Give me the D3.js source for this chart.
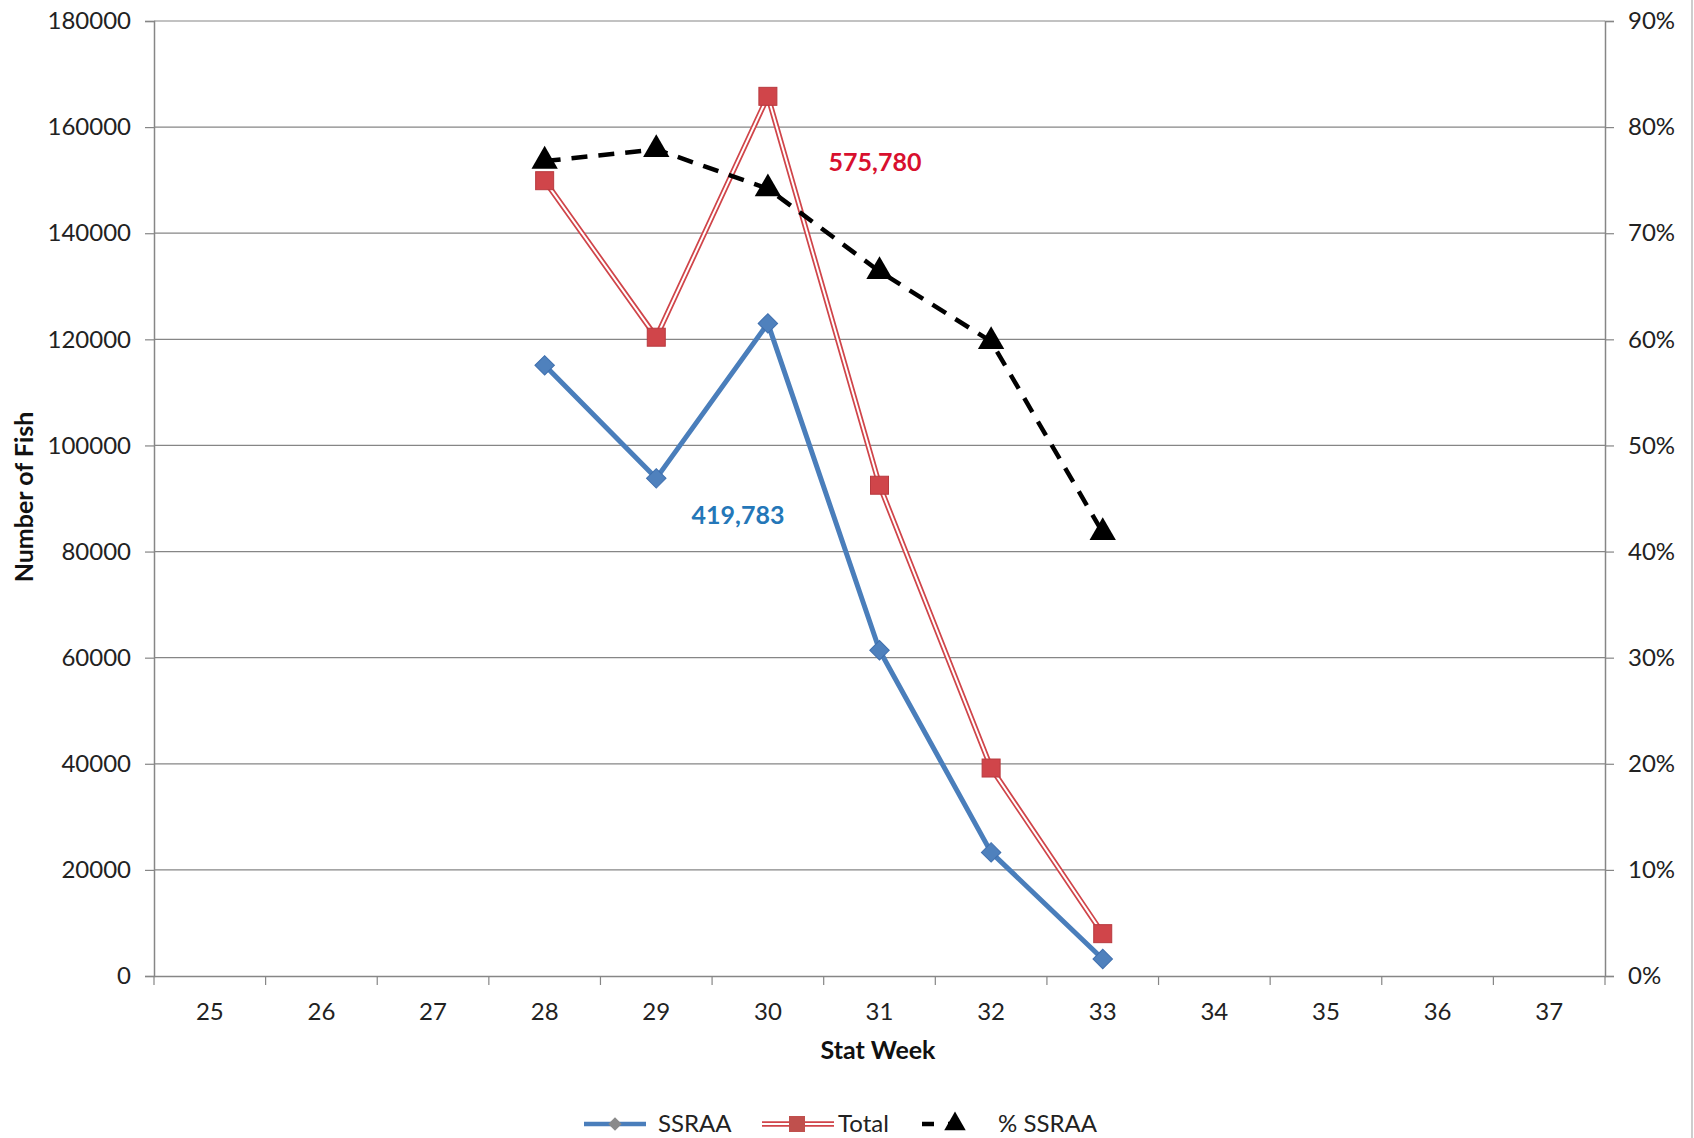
<!DOCTYPE html>
<html><head><meta charset="utf-8">
<script src="https://cdn.jsdelivr.net/npm/d3@7"></script>
<style>body{margin:0;background:#fff}svg{display:block}</style>
</head><body>
<script>
const weeks = [25,26,27,28,29,30,31,32,33,34,35,36,37];
const dataWeeks = [28,29,30,31,32,33];
const ssraa = [115100, 93800, 123000, 61400, 23300, 3200];
const total = [149900, 120400, 165800, 92500, 39200, 7980];
const pctSsraa = [0.768, 0.779, 0.742, 0.664, 0.598, 0.418];
const leftTicks = [0,20000,40000,60000,80000,100000,120000,140000,160000,180000];
const rightTicks = [0,0.1,0.2,0.3,0.4,0.5,0.6,0.7,0.8,0.9];
const seriesNames = ["SSRAA","Total","% SSRAA"];
const totalLabels = ["575,780","419,783"];

const W=1694,H=1138;
const m={l:154,r:1605,t:21,b:976};
const svg=d3.select("body").append("svg").attr("width",W).attr("height",H);
const font="Lato, 'Open Sans', sans-serif";

const x=d3.scaleBand().domain(weeks).range([m.l,m.r]).padding(0);
const y=d3.scaleLinear().domain([0,180000]).range([m.b,m.t]);
const y2=d3.scaleLinear().domain([0,0.9]).range([m.b,m.t]);
const cx=w=>x(w)+x.bandwidth()/2;

// right frame line
svg.append("line").attr("x1",1692).attr("x2",1692).attr("y1",0).attr("y2",H).attr("stroke","#bdbdbd").attr("stroke-width",1.5);

// gridlines
svg.append("g").selectAll("line").data(leftTicks.filter(d=>d>0)).join("line")
  .attr("x1",m.l).attr("x2",m.r).attr("y1",d=>y(d)).attr("y2",d=>y(d))
  .attr("stroke","#868686").attr("stroke-width",1.2);

// left axis
const gl=svg.append("g").attr("transform",`translate(${m.l},0)`)
  .call(d3.axisLeft(y).tickValues(leftTicks).tickFormat(d3.format("d")).tickSize(9).tickPadding(14));
// right axis
const gr=svg.append("g").attr("transform",`translate(${m.r},0)`)
  .call(d3.axisRight(y2).tickValues(rightTicks).tickFormat(d3.format(".0%")).tickSize(9).tickPadding(14));
// bottom axis
const gb=svg.append("g").attr("transform",`translate(0,${m.b})`)
  .call(d3.axisBottom(x).tickSize(0).tickPadding(27));
// tick marks between categories
const bounds=weeks.map(w=>x(w)).concat([m.r]);
svg.append("g").selectAll("line").data(bounds).join("line")
  .attr("x1",d=>d).attr("x2",d=>d).attr("y1",m.b).attr("y2",m.b+9)
  .attr("stroke","#868686").attr("stroke-width",1.2);

[gl,gr,gb].forEach(g=>{
  g.selectAll(".domain").attr("stroke","#868686").attr("stroke-width",1.5);
  g.selectAll(".tick line").attr("stroke","#868686").attr("stroke-width",1.2);
  g.selectAll("text").attr("font-family",font).attr("font-size",24).attr("fill","#222");
});

// SSRAA line
const pts=(vals,sc)=>dataWeeks.map((w,i)=>[cx(w),sc(vals[i])]);
const line=d3.line();
svg.append("path").attr("d",line(pts(ssraa,y))).attr("fill","none")
  .attr("stroke","#4a7ebb").attr("stroke-width",5).attr("stroke-linejoin","round");
// Total double line
svg.append("path").attr("d",line(pts(total,y))).attr("fill","none")
  .attr("stroke","#d0454a").attr("stroke-width",5.5);
svg.append("path").attr("d",line(pts(total,y))).attr("fill","none")
  .attr("stroke","#fff").attr("stroke-width",2);
// pct dashed line
svg.append("path").attr("d",line(pts(pctSsraa,y2))).attr("fill","none")
  .attr("stroke","#000").attr("stroke-width",4.5).attr("stroke-dasharray","16,11");

// markers
const diamond=d3.symbol().type(d3.symbolSquare).size(190);
svg.append("g").selectAll("path").data(pts(ssraa,y)).join("path")
  .attr("d",diamond).attr("transform",d=>`translate(${d[0]},${d[1]}) rotate(45)`)
  .attr("fill","#4f81bd").attr("stroke","#3f6fae").attr("stroke-width",1);
svg.append("g").selectAll("rect").data(pts(total,y)).join("rect")
  .attr("x",d=>d[0]-9).attr("y",d=>d[1]-9).attr("width",18).attr("height",18)
  .attr("fill","#d0454a").attr("stroke","#b83a3f").attr("stroke-width",1);
const tri=d3.symbol().type(d3.symbolTriangle).size(300);
svg.append("g").selectAll("path").data(pts(pctSsraa,y2)).join("path")
  .attr("d",tri).attr("transform",d=>`translate(${d[0]},${d[1]})`).attr("fill","#000");

// annotations
svg.append("text").attr("x",875).attr("y",171).attr("text-anchor","middle")
  .attr("font-family",font).attr("font-weight","bold").attr("font-size",25).attr("fill","#d8102e").text(totalLabels[0]);
svg.append("text").attr("x",738).attr("y",524).attr("text-anchor","middle")
  .attr("font-family",font).attr("font-weight","bold").attr("font-size",25).attr("fill","#2477b8").text(totalLabels[1]);

// axis titles
svg.append("text").attr("x",878).attr("y",1059).attr("text-anchor","middle")
  .attr("font-family",font).attr("font-weight","bold").attr("font-size",25).attr("fill","#111").text("Stat Week");
svg.append("text").attr("transform","translate(33,497) rotate(-90)").attr("text-anchor","middle")
  .attr("font-family",font).attr("font-weight","bold").attr("font-size",25).attr("fill","#111").text("Number of Fish");

// legend
const ly=1124;
const lg=svg.append("g");
lg.append("line").attr("x1",584).attr("x2",646).attr("y1",ly).attr("y2",ly).attr("stroke","#4a7ebb").attr("stroke-width",4.5);
lg.append("path").attr("d",d3.symbol().type(d3.symbolSquare).size(90)).attr("transform",`translate(615,${ly}) rotate(45)`).attr("fill","#8a8a8a");
lg.append("text").attr("x",658).attr("y",ly+8).text(seriesNames[0]);
lg.append("line").attr("x1",762).attr("x2",834).attr("y1",ly).attr("y2",ly).attr("stroke","#d0454a").attr("stroke-width",5.5);
lg.append("line").attr("x1",762).attr("x2",834).attr("y1",ly).attr("y2",ly).attr("stroke","#fff").attr("stroke-width",2);
lg.append("rect").attr("x",789).attr("y",ly-8).attr("width",16).attr("height",16).attr("fill","#c0504d");
lg.append("text").attr("x",838).attr("y",ly+8).text(seriesNames[1]);
lg.append("line").attr("x1",922).attr("x2",968).attr("y1",ly).attr("y2",ly).attr("stroke","#000").attr("stroke-width",4.5).attr("stroke-dasharray","12,14");
lg.append("path").attr("d",d3.symbol().type(d3.symbolTriangle).size(200)).attr("transform",`translate(955,${ly})`).attr("fill","#000");
lg.append("text").attr("x",998).attr("y",ly+8).text(seriesNames[2]);
lg.selectAll("text").attr("font-family",font).attr("font-size",24).attr("fill","#222");
</script>
</body></html>
